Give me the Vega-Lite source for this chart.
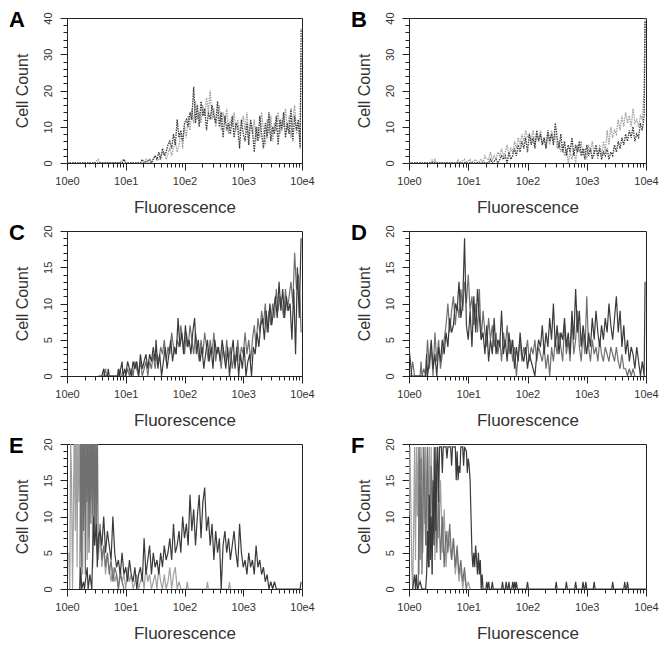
{
"$schema":"https://vega.github.io/schema/vega-lite/v6.json",
"padding":{"left":8,"top":8,"right":0,"bottom":0},
"spacing":5,
"datasets":{
"pA":[
{"s":1,"c":0,"n":0},{"s":1,"c":30,"n":0},{"s":1,"c":34,"n":1},{"s":1,"c":36,"n":0},{"s":1,"c":56,"n":0},{"s":1,"c":62,"n":1},{"s":1,"c":64,"n":0},{"s":1,"c":84,"n":0},{"s":1,"c":86,"n":1},{"s":1,"c":88,"n":0},{"s":1,"c":94,"n":1},{"s":1,"c":96,"n":2},{"s":1,"c":100,"n":1},{"s":1,"c":102,"n":2},{"s":1,"c":106,"n":3},{"s":1,"c":108,"n":1},{"s":1,"c":112,"n":4},{"s":1,"c":114,"n":2},{"s":1,"c":118,"n":6},{"s":1,"c":120,"n":3},{"s":1,"c":122,"n":5},{"s":1,"c":124,"n":8},{"s":1,"c":126,"n":4},{"s":1,"c":128,"n":10},{"s":1,"c":130,"n":7},{"s":1,"c":132,"n":13},{"s":1,"c":134,"n":9},{"s":1,"c":136,"n":15},{"s":1,"c":138,"n":11},{"s":1,"c":140,"n":17},{"s":1,"c":142,"n":12},{"s":1,"c":144,"n":14},{"s":1,"c":146,"n":11},{"s":1,"c":148,"n":16},{"s":1,"c":150,"n":13},{"s":1,"c":152,"n":18},{"s":1,"c":154,"n":14},{"s":1,"c":156,"n":20},{"s":1,"c":158,"n":12},{"s":1,"c":160,"n":15},{"s":1,"c":162,"n":10},{"s":1,"c":164,"n":13},{"s":1,"c":166,"n":16},{"s":1,"c":168,"n":9},{"s":1,"c":170,"n":14},{"s":1,"c":172,"n":11},{"s":1,"c":174,"n":15},{"s":1,"c":176,"n":8},{"s":1,"c":178,"n":12},{"s":1,"c":180,"n":10},{"s":1,"c":182,"n":14},{"s":1,"c":184,"n":9},{"s":1,"c":186,"n":12},{"s":1,"c":188,"n":8},{"s":1,"c":190,"n":11},{"s":1,"c":192,"n":13},{"s":1,"c":194,"n":9},{"s":1,"c":196,"n":14},{"s":1,"c":198,"n":7},{"s":1,"c":200,"n":11},{"s":1,"c":202,"n":8},{"s":1,"c":204,"n":12},{"s":1,"c":206,"n":6},{"s":1,"c":208,"n":10},{"s":1,"c":210,"n":7},{"s":1,"c":212,"n":14},{"s":1,"c":214,"n":9},{"s":1,"c":216,"n":5},{"s":1,"c":218,"n":12},{"s":1,"c":220,"n":8},{"s":1,"c":222,"n":13},{"s":1,"c":224,"n":6},{"s":1,"c":226,"n":11},{"s":1,"c":228,"n":9},{"s":1,"c":230,"n":14},{"s":1,"c":232,"n":8},{"s":1,"c":234,"n":12},{"s":1,"c":236,"n":10},{"s":1,"c":238,"n":15},{"s":1,"c":240,"n":9},{"s":1,"c":242,"n":13},{"s":1,"c":244,"n":7},{"s":1,"c":246,"n":12},{"s":1,"c":248,"n":16},{"s":1,"c":250,"n":8},{"s":1,"c":252,"n":11},{"s":1,"c":254,"n":6},{"s":1,"c":255,"n":30},
{"s":3,"c":0,"n":0},{"s":3,"c":60,"n":0},{"s":3,"c":62,"n":1},{"s":3,"c":64,"n":0},{"s":3,"c":80,"n":0},{"s":3,"c":82,"n":1},{"s":3,"c":84,"n":0},{"s":3,"c":90,"n":1},{"s":3,"c":92,"n":0},{"s":3,"c":96,"n":2},{"s":3,"c":98,"n":1},{"s":3,"c":100,"n":3},{"s":3,"c":102,"n":1},{"s":3,"c":104,"n":4},{"s":3,"c":106,"n":2},{"s":3,"c":108,"n":3},{"s":3,"c":110,"n":5},{"s":3,"c":112,"n":6},{"s":3,"c":114,"n":4},{"s":3,"c":116,"n":8},{"s":3,"c":118,"n":5},{"s":3,"c":120,"n":12},{"s":3,"c":122,"n":7},{"s":3,"c":124,"n":9},{"s":3,"c":126,"n":6},{"s":3,"c":128,"n":11},{"s":3,"c":130,"n":12},{"s":3,"c":132,"n":10},{"s":3,"c":134,"n":14},{"s":3,"c":136,"n":12},{"s":3,"c":138,"n":21},{"s":3,"c":140,"n":11},{"s":3,"c":142,"n":16},{"s":3,"c":144,"n":10},{"s":3,"c":146,"n":17},{"s":3,"c":148,"n":13},{"s":3,"c":150,"n":15},{"s":3,"c":152,"n":9},{"s":3,"c":154,"n":14},{"s":3,"c":156,"n":12},{"s":3,"c":158,"n":16},{"s":3,"c":160,"n":13},{"s":3,"c":162,"n":11},{"s":3,"c":164,"n":17},{"s":3,"c":166,"n":10},{"s":3,"c":168,"n":14},{"s":3,"c":170,"n":7},{"s":3,"c":172,"n":13},{"s":3,"c":174,"n":9},{"s":3,"c":176,"n":11},{"s":3,"c":178,"n":8},{"s":3,"c":180,"n":13},{"s":3,"c":182,"n":7},{"s":3,"c":184,"n":11},{"s":3,"c":186,"n":10},{"s":3,"c":188,"n":4},{"s":3,"c":190,"n":12},{"s":3,"c":192,"n":8},{"s":3,"c":194,"n":6},{"s":3,"c":196,"n":11},{"s":3,"c":198,"n":5},{"s":3,"c":200,"n":12},{"s":3,"c":202,"n":9},{"s":3,"c":204,"n":3},{"s":3,"c":206,"n":10},{"s":3,"c":208,"n":6},{"s":3,"c":210,"n":13},{"s":3,"c":212,"n":8},{"s":3,"c":214,"n":4},{"s":3,"c":216,"n":11},{"s":3,"c":218,"n":7},{"s":3,"c":220,"n":14},{"s":3,"c":222,"n":6},{"s":3,"c":224,"n":10},{"s":3,"c":226,"n":8},{"s":3,"c":228,"n":13},{"s":3,"c":230,"n":5},{"s":3,"c":232,"n":12},{"s":3,"c":234,"n":9},{"s":3,"c":236,"n":14},{"s":3,"c":238,"n":7},{"s":3,"c":240,"n":11},{"s":3,"c":242,"n":8},{"s":3,"c":244,"n":15},{"s":3,"c":246,"n":6},{"s":3,"c":248,"n":13},{"s":3,"c":250,"n":9},{"s":3,"c":252,"n":12},{"s":3,"c":254,"n":4},{"s":3,"c":255,"n":37}
],
"pB":[
{"s":1,"c":0,"n":0},{"s":1,"c":24,"n":0},{"s":1,"c":25,"n":1},{"s":1,"c":26,"n":0},{"s":1,"c":28,"n":1},{"s":1,"c":29,"n":0},{"s":1,"c":52,"n":0},{"s":1,"c":53,"n":1},{"s":1,"c":54,"n":0},{"s":1,"c":60,"n":1},{"s":1,"c":61,"n":0},{"s":1,"c":66,"n":1},{"s":1,"c":67,"n":0},{"s":1,"c":72,"n":1},{"s":1,"c":74,"n":0},{"s":1,"c":78,"n":1},{"s":1,"c":80,"n":0},{"s":1,"c":82,"n":2},{"s":1,"c":84,"n":1},{"s":1,"c":86,"n":1},{"s":1,"c":88,"n":3},{"s":1,"c":90,"n":1},{"s":1,"c":92,"n":2},{"s":1,"c":94,"n":1},{"s":1,"c":96,"n":3},{"s":1,"c":98,"n":2},{"s":1,"c":100,"n":4},{"s":1,"c":102,"n":2},{"s":1,"c":104,"n":3},{"s":1,"c":106,"n":5},{"s":1,"c":108,"n":2},{"s":1,"c":110,"n":4},{"s":1,"c":112,"n":3},{"s":1,"c":114,"n":6},{"s":1,"c":116,"n":4},{"s":1,"c":118,"n":7},{"s":1,"c":120,"n":5},{"s":1,"c":122,"n":8},{"s":1,"c":124,"n":6},{"s":1,"c":126,"n":9},{"s":1,"c":128,"n":7},{"s":1,"c":130,"n":8},{"s":1,"c":132,"n":6},{"s":1,"c":134,"n":9},{"s":1,"c":136,"n":5},{"s":1,"c":138,"n":8},{"s":1,"c":140,"n":6},{"s":1,"c":142,"n":9},{"s":1,"c":144,"n":5},{"s":1,"c":146,"n":7},{"s":1,"c":148,"n":4},{"s":1,"c":150,"n":8},{"s":1,"c":152,"n":5},{"s":1,"c":154,"n":9},{"s":1,"c":156,"n":6},{"s":1,"c":158,"n":8},{"s":1,"c":160,"n":4},{"s":1,"c":162,"n":6},{"s":1,"c":164,"n":3},{"s":1,"c":166,"n":5},{"s":1,"c":168,"n":2},{"s":1,"c":170,"n":4},{"s":1,"c":172,"n":0},{"s":1,"c":174,"n":3},{"s":1,"c":176,"n":1},{"s":1,"c":178,"n":4},{"s":1,"c":180,"n":0},{"s":1,"c":182,"n":5},{"s":1,"c":184,"n":3},{"s":1,"c":186,"n":6},{"s":1,"c":188,"n":2},{"s":1,"c":190,"n":4},{"s":1,"c":192,"n":1},{"s":1,"c":194,"n":5},{"s":1,"c":196,"n":3},{"s":1,"c":198,"n":6},{"s":1,"c":200,"n":2},{"s":1,"c":202,"n":4},{"s":1,"c":204,"n":1},{"s":1,"c":206,"n":5},{"s":1,"c":208,"n":2},{"s":1,"c":210,"n":6},{"s":1,"c":212,"n":3},{"s":1,"c":214,"n":9},{"s":1,"c":216,"n":5},{"s":1,"c":218,"n":10},{"s":1,"c":220,"n":7},{"s":1,"c":222,"n":9},{"s":1,"c":224,"n":8},{"s":1,"c":226,"n":12},{"s":1,"c":228,"n":9},{"s":1,"c":230,"n":13},{"s":1,"c":232,"n":10},{"s":1,"c":234,"n":14},{"s":1,"c":236,"n":11},{"s":1,"c":238,"n":13},{"s":1,"c":240,"n":10},{"s":1,"c":242,"n":15},{"s":1,"c":244,"n":11},{"s":1,"c":246,"n":12},{"s":1,"c":248,"n":10},{"s":1,"c":250,"n":13},{"s":1,"c":252,"n":12},{"s":1,"c":254,"n":20},{"s":1,"c":255,"n":40},
{"s":3,"c":0,"n":0},{"s":3,"c":86,"n":0},{"s":3,"c":88,"n":1},{"s":3,"c":90,"n":0},{"s":3,"c":94,"n":1},{"s":3,"c":96,"n":0},{"s":3,"c":100,"n":2},{"s":3,"c":102,"n":1},{"s":3,"c":104,"n":2},{"s":3,"c":106,"n":0},{"s":3,"c":108,"n":3},{"s":3,"c":110,"n":1},{"s":3,"c":112,"n":2},{"s":3,"c":114,"n":4},{"s":3,"c":116,"n":2},{"s":3,"c":118,"n":5},{"s":3,"c":120,"n":3},{"s":3,"c":122,"n":6},{"s":3,"c":124,"n":4},{"s":3,"c":126,"n":7},{"s":3,"c":128,"n":3},{"s":3,"c":130,"n":8},{"s":3,"c":132,"n":5},{"s":3,"c":134,"n":7},{"s":3,"c":136,"n":4},{"s":3,"c":138,"n":9},{"s":3,"c":140,"n":6},{"s":3,"c":142,"n":8},{"s":3,"c":144,"n":5},{"s":3,"c":146,"n":7},{"s":3,"c":148,"n":4},{"s":3,"c":150,"n":9},{"s":3,"c":152,"n":6},{"s":3,"c":154,"n":8},{"s":3,"c":156,"n":5},{"s":3,"c":158,"n":11},{"s":3,"c":160,"n":7},{"s":3,"c":162,"n":4},{"s":3,"c":164,"n":8},{"s":3,"c":166,"n":3},{"s":3,"c":168,"n":6},{"s":3,"c":170,"n":2},{"s":3,"c":172,"n":5},{"s":3,"c":174,"n":3},{"s":3,"c":176,"n":7},{"s":3,"c":178,"n":2},{"s":3,"c":180,"n":5},{"s":3,"c":182,"n":3},{"s":3,"c":184,"n":6},{"s":3,"c":186,"n":2},{"s":3,"c":188,"n":4},{"s":3,"c":190,"n":1},{"s":3,"c":192,"n":5},{"s":3,"c":194,"n":2},{"s":3,"c":196,"n":4},{"s":3,"c":198,"n":1},{"s":3,"c":200,"n":3},{"s":3,"c":202,"n":5},{"s":3,"c":204,"n":2},{"s":3,"c":206,"n":4},{"s":3,"c":208,"n":1},{"s":3,"c":210,"n":3},{"s":3,"c":212,"n":2},{"s":3,"c":214,"n":4},{"s":3,"c":216,"n":1},{"s":3,"c":218,"n":3},{"s":3,"c":220,"n":2},{"s":3,"c":222,"n":5},{"s":3,"c":224,"n":3},{"s":3,"c":226,"n":6},{"s":3,"c":228,"n":4},{"s":3,"c":230,"n":7},{"s":3,"c":232,"n":5},{"s":3,"c":234,"n":8},{"s":3,"c":236,"n":6},{"s":3,"c":238,"n":9},{"s":3,"c":240,"n":7},{"s":3,"c":242,"n":10},{"s":3,"c":244,"n":6},{"s":3,"c":246,"n":8},{"s":3,"c":248,"n":7},{"s":3,"c":250,"n":11},{"s":3,"c":252,"n":9},{"s":3,"c":254,"n":13},{"s":3,"c":255,"n":39}
],
"pC":[
{"s":2,"c":40,"n":0},{"s":2,"c":42,"n":1},{"s":2,"c":43,"n":0},{"s":2,"c":56,"n":0},{"s":2,"c":58,"n":1},{"s":2,"c":59,"n":0},{"s":2,"c":64,"n":0},{"s":2,"c":66,"n":1},{"s":2,"c":68,"n":0},{"s":2,"c":70,"n":1},{"s":2,"c":72,"n":0},{"s":2,"c":74,"n":2},{"s":2,"c":76,"n":1},{"s":2,"c":78,"n":0},{"s":2,"c":80,"n":2},{"s":2,"c":82,"n":0},{"s":2,"c":84,"n":1},{"s":2,"c":86,"n":2},{"s":2,"c":88,"n":0},{"s":2,"c":90,"n":2},{"s":2,"c":92,"n":1},{"s":2,"c":94,"n":3},{"s":2,"c":96,"n":1},{"s":2,"c":98,"n":3},{"s":2,"c":100,"n":2},{"s":2,"c":102,"n":4},{"s":2,"c":104,"n":3},{"s":2,"c":106,"n":5},{"s":2,"c":108,"n":2},{"s":2,"c":110,"n":4},{"s":2,"c":112,"n":3},{"s":2,"c":114,"n":6},{"s":2,"c":116,"n":4},{"s":2,"c":118,"n":3},{"s":2,"c":120,"n":5},{"s":2,"c":122,"n":4},{"s":2,"c":124,"n":7},{"s":2,"c":126,"n":5},{"s":2,"c":128,"n":3},{"s":2,"c":130,"n":6},{"s":2,"c":132,"n":4},{"s":2,"c":134,"n":7},{"s":2,"c":136,"n":5},{"s":2,"c":138,"n":3},{"s":2,"c":140,"n":6},{"s":2,"c":142,"n":4},{"s":2,"c":144,"n":2},{"s":2,"c":146,"n":5},{"s":2,"c":148,"n":3},{"s":2,"c":150,"n":6},{"s":2,"c":152,"n":4},{"s":2,"c":154,"n":2},{"s":2,"c":156,"n":5},{"s":2,"c":158,"n":3},{"s":2,"c":160,"n":6},{"s":2,"c":162,"n":2},{"s":2,"c":164,"n":4},{"s":2,"c":166,"n":3},{"s":2,"c":168,"n":1},{"s":2,"c":170,"n":4},{"s":2,"c":172,"n":2},{"s":2,"c":174,"n":5},{"s":2,"c":176,"n":2},{"s":2,"c":178,"n":4},{"s":2,"c":180,"n":1},{"s":2,"c":182,"n":3},{"s":2,"c":184,"n":2},{"s":2,"c":186,"n":5},{"s":2,"c":188,"n":2},{"s":2,"c":190,"n":4},{"s":2,"c":192,"n":3},{"s":2,"c":194,"n":6},{"s":2,"c":196,"n":3},{"s":2,"c":198,"n":5},{"s":2,"c":200,"n":2},{"s":2,"c":202,"n":5},{"s":2,"c":204,"n":7},{"s":2,"c":206,"n":4},{"s":2,"c":208,"n":8},{"s":2,"c":210,"n":6},{"s":2,"c":212,"n":9},{"s":2,"c":214,"n":7},{"s":2,"c":216,"n":10},{"s":2,"c":218,"n":6},{"s":2,"c":220,"n":9},{"s":2,"c":222,"n":7},{"s":2,"c":224,"n":10},{"s":2,"c":226,"n":8},{"s":2,"c":228,"n":12},{"s":2,"c":230,"n":9},{"s":2,"c":232,"n":11},{"s":2,"c":234,"n":10},{"s":2,"c":236,"n":8},{"s":2,"c":238,"n":12},{"s":2,"c":240,"n":9},{"s":2,"c":242,"n":11},{"s":2,"c":244,"n":13},{"s":2,"c":246,"n":10},{"s":2,"c":248,"n":17},{"s":2,"c":250,"n":12},{"s":2,"c":252,"n":14},{"s":2,"c":254,"n":10},{"s":2,"c":255,"n":6},
{"s":3,"c":34,"n":0},{"s":3,"c":38,"n":0},{"s":3,"c":40,"n":1},{"s":3,"c":41,"n":0},{"s":3,"c":44,"n":0},{"s":3,"c":45,"n":1},{"s":3,"c":46,"n":0},{"s":3,"c":55,"n":0},{"s":3,"c":56,"n":1},{"s":3,"c":57,"n":0},{"s":3,"c":60,"n":2},{"s":3,"c":61,"n":0},{"s":3,"c":63,"n":1},{"s":3,"c":64,"n":0},{"s":3,"c":66,"n":2},{"s":3,"c":68,"n":1},{"s":3,"c":70,"n":0},{"s":3,"c":72,"n":2},{"s":3,"c":74,"n":1},{"s":3,"c":76,"n":2},{"s":3,"c":78,"n":0},{"s":3,"c":80,"n":3},{"s":3,"c":82,"n":1},{"s":3,"c":84,"n":2},{"s":3,"c":86,"n":3},{"s":3,"c":88,"n":1},{"s":3,"c":90,"n":3},{"s":3,"c":92,"n":2},{"s":3,"c":94,"n":4},{"s":3,"c":96,"n":2},{"s":3,"c":97,"n":5},{"s":3,"c":99,"n":1},{"s":3,"c":101,"n":3},{"s":3,"c":103,"n":0},{"s":3,"c":105,"n":2},{"s":3,"c":107,"n":4},{"s":3,"c":109,"n":1},{"s":3,"c":111,"n":3},{"s":3,"c":113,"n":5},{"s":3,"c":115,"n":2},{"s":3,"c":117,"n":4},{"s":3,"c":119,"n":3},{"s":3,"c":121,"n":8},{"s":3,"c":123,"n":4},{"s":3,"c":125,"n":6},{"s":3,"c":127,"n":3},{"s":3,"c":129,"n":7},{"s":3,"c":131,"n":4},{"s":3,"c":133,"n":5},{"s":3,"c":135,"n":3},{"s":3,"c":137,"n":6},{"s":3,"c":139,"n":8},{"s":3,"c":141,"n":3},{"s":3,"c":143,"n":5},{"s":3,"c":145,"n":2},{"s":3,"c":147,"n":4},{"s":3,"c":149,"n":1},{"s":3,"c":151,"n":3},{"s":3,"c":153,"n":5},{"s":3,"c":155,"n":2},{"s":3,"c":157,"n":4},{"s":3,"c":159,"n":1},{"s":3,"c":161,"n":5},{"s":3,"c":163,"n":3},{"s":3,"c":165,"n":4},{"s":3,"c":167,"n":2},{"s":3,"c":169,"n":5},{"s":3,"c":171,"n":3},{"s":3,"c":173,"n":1},{"s":3,"c":175,"n":4},{"s":3,"c":177,"n":0},{"s":3,"c":179,"n":3},{"s":3,"c":181,"n":5},{"s":3,"c":183,"n":1},{"s":3,"c":185,"n":4},{"s":3,"c":187,"n":0},{"s":3,"c":189,"n":3},{"s":3,"c":191,"n":1},{"s":3,"c":193,"n":4},{"s":3,"c":195,"n":0},{"s":3,"c":197,"n":2},{"s":3,"c":199,"n":3},{"s":3,"c":201,"n":0},{"s":3,"c":203,"n":4},{"s":3,"c":205,"n":3},{"s":3,"c":207,"n":6},{"s":3,"c":209,"n":4},{"s":3,"c":211,"n":7},{"s":3,"c":213,"n":8},{"s":3,"c":215,"n":5},{"s":3,"c":217,"n":9},{"s":3,"c":219,"n":6},{"s":3,"c":221,"n":10},{"s":3,"c":223,"n":7},{"s":3,"c":225,"n":9},{"s":3,"c":227,"n":11},{"s":3,"c":229,"n":8},{"s":3,"c":231,"n":13},{"s":3,"c":233,"n":9},{"s":3,"c":235,"n":12},{"s":3,"c":237,"n":8},{"s":3,"c":239,"n":11},{"s":3,"c":241,"n":9},{"s":3,"c":243,"n":10},{"s":3,"c":245,"n":5},{"s":3,"c":247,"n":12},{"s":3,"c":249,"n":3},{"s":3,"c":251,"n":15},{"s":3,"c":253,"n":8},{"s":3,"c":255,"n":19}
],
"pD":[
{"s":2,"c":2,"n":0},{"s":2,"c":4,"n":2},{"s":2,"c":6,"n":0},{"s":2,"c":12,"n":0},{"s":2,"c":13,"n":2},{"s":2,"c":14,"n":0},{"s":2,"c":16,"n":1},{"s":2,"c":18,"n":0},{"s":2,"c":20,"n":5},{"s":2,"c":22,"n":1},{"s":2,"c":24,"n":4},{"s":2,"c":26,"n":0},{"s":2,"c":28,"n":6},{"s":2,"c":30,"n":2},{"s":2,"c":32,"n":5},{"s":2,"c":34,"n":1},{"s":2,"c":36,"n":3},{"s":2,"c":38,"n":5},{"s":2,"c":40,"n":7},{"s":2,"c":42,"n":10},{"s":2,"c":44,"n":6},{"s":2,"c":46,"n":9},{"s":2,"c":48,"n":11},{"s":2,"c":50,"n":7},{"s":2,"c":52,"n":10},{"s":2,"c":54,"n":8},{"s":2,"c":56,"n":12},{"s":2,"c":58,"n":9},{"s":2,"c":60,"n":13},{"s":2,"c":62,"n":10},{"s":2,"c":64,"n":14},{"s":2,"c":66,"n":9},{"s":2,"c":68,"n":11},{"s":2,"c":70,"n":7},{"s":2,"c":72,"n":10},{"s":2,"c":74,"n":6},{"s":2,"c":76,"n":12},{"s":2,"c":78,"n":5},{"s":2,"c":80,"n":9},{"s":2,"c":82,"n":6},{"s":2,"c":84,"n":4},{"s":2,"c":86,"n":8},{"s":2,"c":88,"n":5},{"s":2,"c":90,"n":7},{"s":2,"c":92,"n":4},{"s":2,"c":94,"n":6},{"s":2,"c":96,"n":3},{"s":2,"c":98,"n":5},{"s":2,"c":100,"n":2},{"s":2,"c":102,"n":6},{"s":2,"c":104,"n":4},{"s":2,"c":106,"n":7},{"s":2,"c":108,"n":3},{"s":2,"c":110,"n":5},{"s":2,"c":112,"n":2},{"s":2,"c":114,"n":4},{"s":2,"c":116,"n":0},{"s":2,"c":118,"n":3},{"s":2,"c":120,"n":5},{"s":2,"c":122,"n":2},{"s":2,"c":124,"n":4},{"s":2,"c":126,"n":3},{"s":2,"c":128,"n":5},{"s":2,"c":130,"n":2},{"s":2,"c":132,"n":4},{"s":2,"c":134,"n":3},{"s":2,"c":136,"n":5},{"s":2,"c":138,"n":2},{"s":2,"c":140,"n":4},{"s":2,"c":142,"n":3},{"s":2,"c":144,"n":2},{"s":2,"c":146,"n":4},{"s":2,"c":148,"n":1},{"s":2,"c":150,"n":3},{"s":2,"c":152,"n":0},{"s":2,"c":154,"n":4},{"s":2,"c":156,"n":2},{"s":2,"c":158,"n":5},{"s":2,"c":160,"n":3},{"s":2,"c":162,"n":6},{"s":2,"c":164,"n":4},{"s":2,"c":166,"n":2},{"s":2,"c":168,"n":7},{"s":2,"c":170,"n":3},{"s":2,"c":172,"n":5},{"s":2,"c":174,"n":2},{"s":2,"c":176,"n":8},{"s":2,"c":178,"n":3},{"s":2,"c":180,"n":5},{"s":2,"c":182,"n":9},{"s":2,"c":184,"n":4},{"s":2,"c":186,"n":2},{"s":2,"c":188,"n":6},{"s":2,"c":190,"n":3},{"s":2,"c":192,"n":11},{"s":2,"c":194,"n":4},{"s":2,"c":196,"n":2},{"s":2,"c":198,"n":5},{"s":2,"c":200,"n":3},{"s":2,"c":202,"n":4},{"s":2,"c":204,"n":2},{"s":2,"c":206,"n":5},{"s":2,"c":208,"n":3},{"s":2,"c":210,"n":2},{"s":2,"c":212,"n":4},{"s":2,"c":214,"n":3},{"s":2,"c":216,"n":2},{"s":2,"c":218,"n":4},{"s":2,"c":220,"n":3},{"s":2,"c":222,"n":2},{"s":2,"c":224,"n":4},{"s":2,"c":226,"n":2},{"s":2,"c":228,"n":1},{"s":2,"c":230,"n":3},{"s":2,"c":232,"n":1},{"s":2,"c":234,"n":1},{"s":2,"c":236,"n":0},{"s":2,"c":238,"n":1},{"s":2,"c":240,"n":0},{"s":2,"c":242,"n":1},{"s":2,"c":244,"n":0},
{"s":3,"c":0,"n":4},{"s":3,"c":3,"n":0},{"s":3,"c":18,"n":0},{"s":3,"c":19,"n":3},{"s":3,"c":20,"n":0},{"s":3,"c":22,"n":2},{"s":3,"c":24,"n":5},{"s":3,"c":26,"n":1},{"s":3,"c":28,"n":3},{"s":3,"c":30,"n":0},{"s":3,"c":32,"n":4},{"s":3,"c":34,"n":2},{"s":3,"c":36,"n":5},{"s":3,"c":38,"n":3},{"s":3,"c":40,"n":6},{"s":3,"c":42,"n":4},{"s":3,"c":44,"n":8},{"s":3,"c":46,"n":6},{"s":3,"c":48,"n":7},{"s":3,"c":50,"n":10},{"s":3,"c":52,"n":9},{"s":3,"c":54,"n":13},{"s":3,"c":56,"n":8},{"s":3,"c":58,"n":10},{"s":3,"c":60,"n":19},{"s":3,"c":62,"n":7},{"s":3,"c":64,"n":5},{"s":3,"c":66,"n":9},{"s":3,"c":68,"n":4},{"s":3,"c":70,"n":11},{"s":3,"c":72,"n":6},{"s":3,"c":74,"n":12},{"s":3,"c":76,"n":8},{"s":3,"c":78,"n":5},{"s":3,"c":80,"n":6},{"s":3,"c":82,"n":3},{"s":3,"c":84,"n":7},{"s":3,"c":86,"n":2},{"s":3,"c":88,"n":5},{"s":3,"c":90,"n":3},{"s":3,"c":92,"n":8},{"s":3,"c":94,"n":3},{"s":3,"c":96,"n":5},{"s":3,"c":98,"n":4},{"s":3,"c":100,"n":9},{"s":3,"c":102,"n":3},{"s":3,"c":104,"n":5},{"s":3,"c":106,"n":2},{"s":3,"c":108,"n":6},{"s":3,"c":110,"n":3},{"s":3,"c":112,"n":5},{"s":3,"c":114,"n":1},{"s":3,"c":116,"n":4},{"s":3,"c":118,"n":2},{"s":3,"c":120,"n":6},{"s":3,"c":122,"n":3},{"s":3,"c":124,"n":2},{"s":3,"c":126,"n":4},{"s":3,"c":128,"n":1},{"s":3,"c":130,"n":3},{"s":3,"c":132,"n":2},{"s":3,"c":134,"n":1},{"s":3,"c":136,"n":0},{"s":3,"c":138,"n":3},{"s":3,"c":140,"n":5},{"s":3,"c":142,"n":4},{"s":3,"c":144,"n":7},{"s":3,"c":146,"n":3},{"s":3,"c":148,"n":6},{"s":3,"c":150,"n":4},{"s":3,"c":152,"n":8},{"s":3,"c":154,"n":5},{"s":3,"c":156,"n":10},{"s":3,"c":158,"n":4},{"s":3,"c":160,"n":7},{"s":3,"c":162,"n":3},{"s":3,"c":164,"n":6},{"s":3,"c":166,"n":5},{"s":3,"c":168,"n":8},{"s":3,"c":170,"n":4},{"s":3,"c":172,"n":6},{"s":3,"c":174,"n":3},{"s":3,"c":176,"n":9},{"s":3,"c":178,"n":5},{"s":3,"c":180,"n":12},{"s":3,"c":182,"n":6},{"s":3,"c":184,"n":9},{"s":3,"c":186,"n":4},{"s":3,"c":188,"n":7},{"s":3,"c":190,"n":5},{"s":3,"c":192,"n":3},{"s":3,"c":194,"n":6},{"s":3,"c":196,"n":4},{"s":3,"c":198,"n":8},{"s":3,"c":200,"n":5},{"s":3,"c":202,"n":9},{"s":3,"c":204,"n":6},{"s":3,"c":206,"n":4},{"s":3,"c":208,"n":7},{"s":3,"c":210,"n":5},{"s":3,"c":212,"n":8},{"s":3,"c":214,"n":6},{"s":3,"c":216,"n":10},{"s":3,"c":218,"n":7},{"s":3,"c":220,"n":5},{"s":3,"c":222,"n":8},{"s":3,"c":224,"n":11},{"s":3,"c":226,"n":6},{"s":3,"c":228,"n":9},{"s":3,"c":230,"n":4},{"s":3,"c":232,"n":7},{"s":3,"c":234,"n":3},{"s":3,"c":236,"n":5},{"s":3,"c":238,"n":2},{"s":3,"c":240,"n":4},{"s":3,"c":242,"n":3},{"s":3,"c":244,"n":1},{"s":3,"c":246,"n":4},{"s":3,"c":248,"n":2},{"s":3,"c":250,"n":0},{"s":3,"c":252,"n":2},{"s":3,"c":254,"n":0},{"s":3,"c":255,"n":13}
],
"pE":[
{"s":1,"c":2,"n":5},{"s":1,"c":3,"n":0},{"s":1,"c":4,"n":20},{"s":1,"c":5,"n":15},{"s":1,"c":6,"n":0},{"s":1,"c":7,"n":10},{"s":1,"c":8,"n":25},{"s":1,"c":9,"n":8},{"s":1,"c":10,"n":25},{"s":1,"c":11,"n":3},{"s":1,"c":12,"n":25},{"s":1,"c":13,"n":12},{"s":1,"c":14,"n":25},{"s":1,"c":15,"n":5},{"s":1,"c":16,"n":25},{"s":1,"c":17,"n":2},{"s":1,"c":18,"n":18},{"s":1,"c":19,"n":25},{"s":1,"c":20,"n":10},{"s":1,"c":21,"n":25},{"s":1,"c":22,"n":4},{"s":1,"c":23,"n":25},{"s":1,"c":24,"n":7},{"s":1,"c":25,"n":25},{"s":1,"c":26,"n":12},{"s":1,"c":27,"n":25},{"s":1,"c":28,"n":3},{"s":1,"c":30,"n":15},{"s":1,"c":32,"n":6},{"s":1,"c":34,"n":4},{"s":1,"c":36,"n":8},{"s":1,"c":38,"n":3},{"s":1,"c":40,"n":6},{"s":1,"c":42,"n":2},{"s":1,"c":44,"n":5},{"s":1,"c":46,"n":3},{"s":1,"c":48,"n":1},{"s":1,"c":50,"n":3},{"s":1,"c":52,"n":1},{"s":1,"c":54,"n":2},{"s":1,"c":56,"n":0},{"s":1,"c":58,"n":3},{"s":1,"c":60,"n":1},{"s":1,"c":62,"n":2},{"s":1,"c":64,"n":0},{"s":1,"c":66,"n":3},{"s":1,"c":68,"n":1},{"s":1,"c":70,"n":2},{"s":1,"c":72,"n":0},{"s":1,"c":74,"n":1},{"s":1,"c":76,"n":2},{"s":1,"c":78,"n":0},{"s":1,"c":80,"n":1},{"s":1,"c":82,"n":2},{"s":1,"c":84,"n":0},{"s":1,"c":86,"n":3},{"s":1,"c":88,"n":1},{"s":1,"c":90,"n":2},{"s":1,"c":92,"n":0},{"s":1,"c":94,"n":1},{"s":1,"c":96,"n":2},{"s":1,"c":98,"n":0},{"s":1,"c":100,"n":3},{"s":1,"c":102,"n":1},{"s":1,"c":104,"n":0},{"s":1,"c":106,"n":2},{"s":1,"c":108,"n":0},{"s":1,"c":110,"n":1},{"s":1,"c":112,"n":3},{"s":1,"c":114,"n":0},{"s":1,"c":116,"n":2},{"s":1,"c":118,"n":3},{"s":1,"c":120,"n":0},{"s":1,"c":122,"n":1},{"s":1,"c":124,"n":0},{"s":1,"c":130,"n":0},{"s":1,"c":131,"n":1},{"s":1,"c":132,"n":0},{"s":1,"c":152,"n":0},{"s":1,"c":153,"n":1},{"s":1,"c":154,"n":0},{"s":1,"c":176,"n":0},{"s":1,"c":177,"n":1},{"s":1,"c":178,"n":0},
{"s":2,"c":14,"n":0},{"s":2,"c":15,"n":25},{"s":2,"c":16,"n":3},{"s":2,"c":17,"n":25},{"s":2,"c":18,"n":8},{"s":2,"c":19,"n":25},{"s":2,"c":20,"n":2},{"s":2,"c":21,"n":25},{"s":2,"c":22,"n":12},{"s":2,"c":23,"n":25},{"s":2,"c":24,"n":5},{"s":2,"c":25,"n":25},{"s":2,"c":26,"n":9},{"s":2,"c":27,"n":25},{"s":2,"c":28,"n":10},{"s":2,"c":29,"n":25},{"s":2,"c":30,"n":6},{"s":2,"c":31,"n":25},{"s":2,"c":32,"n":8},{"s":2,"c":33,"n":25},{"s":2,"c":34,"n":5},{"s":2,"c":36,"n":9},{"s":2,"c":38,"n":4},{"s":2,"c":40,"n":6},{"s":2,"c":42,"n":3},{"s":2,"c":44,"n":5},{"s":2,"c":46,"n":2},{"s":2,"c":48,"n":4},{"s":2,"c":50,"n":1},{"s":2,"c":52,"n":3},{"s":2,"c":54,"n":2},{"s":2,"c":56,"n":0},{"s":2,"c":58,"n":2},{"s":2,"c":60,"n":1},{"s":2,"c":62,"n":0},
{"s":3,"c":14,"n":0},{"s":3,"c":15,"n":3},{"s":3,"c":16,"n":0},{"s":3,"c":18,"n":1},{"s":3,"c":19,"n":0},{"s":3,"c":20,"n":1},{"s":3,"c":22,"n":3},{"s":3,"c":23,"n":0},{"s":3,"c":25,"n":2},{"s":3,"c":27,"n":0},{"s":3,"c":28,"n":5},{"s":3,"c":29,"n":10},{"s":3,"c":30,"n":6},{"s":3,"c":32,"n":9},{"s":3,"c":33,"n":3},{"s":3,"c":34,"n":7},{"s":3,"c":36,"n":8},{"s":3,"c":38,"n":6},{"s":3,"c":40,"n":10},{"s":3,"c":42,"n":5},{"s":3,"c":44,"n":8},{"s":3,"c":46,"n":6},{"s":3,"c":48,"n":4},{"s":3,"c":50,"n":10},{"s":3,"c":52,"n":5},{"s":3,"c":54,"n":3},{"s":3,"c":56,"n":4},{"s":3,"c":58,"n":2},{"s":3,"c":60,"n":5},{"s":3,"c":62,"n":2},{"s":3,"c":64,"n":3},{"s":3,"c":66,"n":1},{"s":3,"c":68,"n":4},{"s":3,"c":70,"n":2},{"s":3,"c":72,"n":1},{"s":3,"c":74,"n":3},{"s":3,"c":76,"n":0},{"s":3,"c":78,"n":2},{"s":3,"c":80,"n":3},{"s":3,"c":82,"n":1},{"s":3,"c":84,"n":7},{"s":3,"c":86,"n":2},{"s":3,"c":88,"n":4},{"s":3,"c":90,"n":6},{"s":3,"c":92,"n":2},{"s":3,"c":94,"n":5},{"s":3,"c":96,"n":3},{"s":3,"c":98,"n":4},{"s":3,"c":100,"n":2},{"s":3,"c":102,"n":5},{"s":3,"c":104,"n":3},{"s":3,"c":106,"n":6},{"s":3,"c":108,"n":4},{"s":3,"c":110,"n":5},{"s":3,"c":112,"n":7},{"s":3,"c":114,"n":4},{"s":3,"c":116,"n":9},{"s":3,"c":118,"n":5},{"s":3,"c":120,"n":6},{"s":3,"c":122,"n":8},{"s":3,"c":124,"n":5},{"s":3,"c":126,"n":10},{"s":3,"c":128,"n":7},{"s":3,"c":130,"n":9},{"s":3,"c":132,"n":6},{"s":3,"c":134,"n":13},{"s":3,"c":136,"n":8},{"s":3,"c":138,"n":11},{"s":3,"c":140,"n":6},{"s":3,"c":142,"n":10},{"s":3,"c":144,"n":13},{"s":3,"c":146,"n":7},{"s":3,"c":148,"n":12},{"s":3,"c":150,"n":14},{"s":3,"c":152,"n":8},{"s":3,"c":154,"n":10},{"s":3,"c":156,"n":6},{"s":3,"c":158,"n":9},{"s":3,"c":160,"n":4},{"s":3,"c":162,"n":8},{"s":3,"c":164,"n":5},{"s":3,"c":166,"n":7},{"s":3,"c":168,"n":0},{"s":3,"c":170,"n":6},{"s":3,"c":172,"n":8},{"s":3,"c":174,"n":5},{"s":3,"c":176,"n":7},{"s":3,"c":178,"n":4},{"s":3,"c":180,"n":6},{"s":3,"c":182,"n":8},{"s":3,"c":184,"n":5},{"s":3,"c":186,"n":3},{"s":3,"c":188,"n":9},{"s":3,"c":190,"n":5},{"s":3,"c":192,"n":3},{"s":3,"c":194,"n":4},{"s":3,"c":196,"n":2},{"s":3,"c":198,"n":5},{"s":3,"c":200,"n":3},{"s":3,"c":202,"n":4},{"s":3,"c":204,"n":2},{"s":3,"c":206,"n":6},{"s":3,"c":208,"n":3},{"s":3,"c":210,"n":4},{"s":3,"c":212,"n":2},{"s":3,"c":214,"n":3},{"s":3,"c":216,"n":1},{"s":3,"c":218,"n":2},{"s":3,"c":220,"n":0},{"s":3,"c":222,"n":1},{"s":3,"c":224,"n":0},{"s":3,"c":226,"n":1},{"s":3,"c":228,"n":0},{"s":3,"c":254,"n":0},{"s":3,"c":255,"n":1}
],
"pF":[
{"s":1,"c":0,"n":10},{"s":1,"c":1,"n":19.6},{"s":1,"c":2,"n":12},{"s":1,"c":3,"n":3},{"s":1,"c":4,"n":0},{"s":1,"c":5,"n":8},{"s":1,"c":6,"n":19.6},{"s":1,"c":7,"n":4},{"s":1,"c":8,"n":19.6},{"s":1,"c":9,"n":10},{"s":1,"c":10,"n":19.6},{"s":1,"c":11,"n":2},{"s":1,"c":12,"n":19.6},{"s":1,"c":13,"n":15},{"s":1,"c":14,"n":19.6},{"s":1,"c":15,"n":5},{"s":1,"c":16,"n":19.6},{"s":1,"c":17,"n":9},{"s":1,"c":18,"n":19.6},{"s":1,"c":19,"n":6},{"s":1,"c":20,"n":19.6},{"s":1,"c":21,"n":3},{"s":1,"c":22,"n":19.6},{"s":1,"c":23,"n":8},{"s":1,"c":24,"n":19.6},{"s":1,"c":25,"n":2},{"s":1,"c":26,"n":14},{"s":1,"c":27,"n":19.6},{"s":1,"c":28,"n":4},{"s":1,"c":30,"n":19.6},{"s":1,"c":32,"n":7},{"s":1,"c":34,"n":15},{"s":1,"c":36,"n":5},{"s":1,"c":38,"n":11},{"s":1,"c":40,"n":3},{"s":1,"c":42,"n":8},{"s":1,"c":44,"n":6},{"s":1,"c":46,"n":4},{"s":1,"c":48,"n":7},{"s":1,"c":50,"n":2},{"s":1,"c":52,"n":5},{"s":1,"c":54,"n":1},{"s":1,"c":56,"n":3},{"s":1,"c":58,"n":0},{"s":1,"c":60,"n":2},{"s":1,"c":62,"n":0},{"s":1,"c":64,"n":1},{"s":1,"c":66,"n":0},
{"s":2,"c":10,"n":0},{"s":2,"c":11,"n":19.6},{"s":2,"c":12,"n":4},{"s":2,"c":13,"n":18},{"s":2,"c":14,"n":2},{"s":2,"c":16,"n":19.6},{"s":2,"c":18,"n":6},{"s":2,"c":20,"n":19.6},{"s":2,"c":22,"n":3},{"s":2,"c":24,"n":17},{"s":2,"c":26,"n":8},{"s":2,"c":28,"n":19.6},{"s":2,"c":30,"n":5},{"s":2,"c":32,"n":13},{"s":2,"c":34,"n":4},{"s":2,"c":36,"n":10},{"s":2,"c":38,"n":3},{"s":2,"c":40,"n":8},{"s":2,"c":42,"n":5},{"s":2,"c":44,"n":9},{"s":2,"c":46,"n":4},{"s":2,"c":48,"n":7},{"s":2,"c":50,"n":3},{"s":2,"c":52,"n":6},{"s":2,"c":54,"n":2},{"s":2,"c":56,"n":4},{"s":2,"c":58,"n":1},{"s":2,"c":60,"n":3},{"s":2,"c":62,"n":0},
{"s":3,"c":4,"n":0},{"s":3,"c":6,"n":2},{"s":3,"c":7,"n":0},{"s":3,"c":8,"n":2},{"s":3,"c":9,"n":0},{"s":3,"c":12,"n":1},{"s":3,"c":14,"n":0},{"s":3,"c":18,"n":0},{"s":3,"c":19,"n":2},{"s":3,"c":20,"n":8},{"s":3,"c":21,"n":3},{"s":3,"c":22,"n":13},{"s":3,"c":23,"n":4},{"s":3,"c":24,"n":10},{"s":3,"c":25,"n":2},{"s":3,"c":26,"n":15},{"s":3,"c":27,"n":6},{"s":3,"c":28,"n":19.6},{"s":3,"c":29,"n":8},{"s":3,"c":30,"n":17},{"s":3,"c":31,"n":19.6},{"s":3,"c":32,"n":12},{"s":3,"c":33,"n":19.6},{"s":3,"c":35,"n":19.6},{"s":3,"c":36,"n":16},{"s":3,"c":37,"n":19.6},{"s":3,"c":40,"n":19.6},{"s":3,"c":41,"n":18},{"s":3,"c":42,"n":19.6},{"s":3,"c":45,"n":19.6},{"s":3,"c":46,"n":17},{"s":3,"c":47,"n":19.6},{"s":3,"c":50,"n":19.6},{"s":3,"c":51,"n":15},{"s":3,"c":52,"n":19},{"s":3,"c":53,"n":15},{"s":3,"c":54,"n":17},{"s":3,"c":55,"n":16},{"s":3,"c":56,"n":19.6},{"s":3,"c":58,"n":19.6},{"s":3,"c":59,"n":17},{"s":3,"c":60,"n":19.6},{"s":3,"c":62,"n":19},{"s":3,"c":63,"n":16},{"s":3,"c":64,"n":18},{"s":3,"c":65,"n":17},{"s":3,"c":66,"n":15},{"s":3,"c":67,"n":10},{"s":3,"c":68,"n":5},{"s":3,"c":69,"n":3},{"s":3,"c":70,"n":5},{"s":3,"c":71,"n":3},{"s":3,"c":72,"n":6},{"s":3,"c":73,"n":4},{"s":3,"c":74,"n":2},{"s":3,"c":75,"n":5},{"s":3,"c":76,"n":2},{"s":3,"c":77,"n":4},{"s":3,"c":78,"n":0},{"s":3,"c":79,"n":2},{"s":3,"c":80,"n":0},{"s":3,"c":83,"n":0},{"s":3,"c":84,"n":1},{"s":3,"c":85,"n":0},{"s":3,"c":86,"n":1},{"s":3,"c":87,"n":0},{"s":3,"c":89,"n":0},{"s":3,"c":90,"n":1},{"s":3,"c":91,"n":0},{"s":3,"c":100,"n":0},{"s":3,"c":101,"n":1},{"s":3,"c":102,"n":0},{"s":3,"c":104,"n":0},{"s":3,"c":105,"n":1},{"s":3,"c":106,"n":0},{"s":3,"c":107,"n":0},{"s":3,"c":108,"n":1},{"s":3,"c":109,"n":0},{"s":3,"c":111,"n":0},{"s":3,"c":112,"n":1},{"s":3,"c":113,"n":0},{"s":3,"c":114,"n":1},{"s":3,"c":115,"n":0},{"s":3,"c":116,"n":1},{"s":3,"c":117,"n":0},{"s":3,"c":127,"n":0},{"s":3,"c":128,"n":1},{"s":3,"c":129,"n":0},{"s":3,"c":158,"n":0},{"s":3,"c":159,"n":1},{"s":3,"c":160,"n":0},{"s":3,"c":169,"n":0},{"s":3,"c":170,"n":1},{"s":3,"c":171,"n":0},{"s":3,"c":179,"n":0},{"s":3,"c":180,"n":1},{"s":3,"c":181,"n":0},{"s":3,"c":187,"n":0},{"s":3,"c":188,"n":1},{"s":3,"c":189,"n":0},{"s":3,"c":190,"n":0},{"s":3,"c":191,"n":1},{"s":3,"c":192,"n":0},{"s":3,"c":199,"n":0},{"s":3,"c":200,"n":1},{"s":3,"c":201,"n":0},{"s":3,"c":219,"n":0},{"s":3,"c":220,"n":1},{"s":3,"c":221,"n":0},{"s":3,"c":232,"n":0},{"s":3,"c":233,"n":1},{"s":3,"c":234,"n":0},{"s":3,"c":235,"n":0},{"s":3,"c":236,"n":1},{"s":3,"c":237,"n":0},{"s":3,"c":256,"n":0}
]
},
"vconcat":[
{"hconcat":[
{"width":235,"height":145,"title":{"text":"A"},"data":{"name":"pA"},
 "mark":{"type":"line","clip":true,"strokeWidth":1.3,"strokeDash":[1.5,1]},
 "encoding":{
  "x":{"field":"c","type":"quantitative","title":"Fluorescence","scale":{"domain":[0,256],"nice":false,"zero":false},"axis":{"values":[0,19.27,30.54,38.53,44.74,49.8,54.09,57.8,61.07,64,83.27,94.54,102.53,108.74,113.8,118.09,121.8,125.07,128,147.27,158.54,166.53,172.74,177.8,182.09,185.8,189.07,192,211.27,222.54,230.53,236.74,241.8,246.09,249.8,253.07,256],"labelExpr":"datum.value % 64 == 0 ? '10e' + (datum.value / 64) : ''","tickSize":{"condition":{"test":"datum.value % 64 == 0","value":7},"value":4}}},
  "y":{"field":"n","type":"quantitative","title":"Cell Count","scale":{"domain":[0,40],"nice":false},"axis":{"values":[0,2,4,6,8,10,12,14,16,18,20,22,24,26,28,30,32,34,36,38,40],"labelExpr":"datum.value % 10 == 0 ? '' + datum.value : ''","tickSize":{"condition":{"test":"datum.value % 10 == 0","value":7},"value":4}}},
  "color":{"field":"s","type":"nominal","scale":{"domain":[1,2,3],"range":["#a0a0a0","#707070","#3a3a3a"]},"legend":null}}},
{"width":237,"height":145,"title":{"text":"B"},"data":{"name":"pB"},
 "mark":{"type":"line","clip":true,"strokeWidth":1.3,"strokeDash":[1.5,1]},
 "encoding":{
  "x":{"field":"c","type":"quantitative","title":"Fluorescence","scale":{"domain":[0,256],"nice":false,"zero":false},"axis":{"values":[0,19.27,30.54,38.53,44.74,49.8,54.09,57.8,61.07,64,83.27,94.54,102.53,108.74,113.8,118.09,121.8,125.07,128,147.27,158.54,166.53,172.74,177.8,182.09,185.8,189.07,192,211.27,222.54,230.53,236.74,241.8,246.09,249.8,253.07,256],"labelExpr":"datum.value % 64 == 0 ? '10e' + (datum.value / 64) : ''","tickSize":{"condition":{"test":"datum.value % 64 == 0","value":7},"value":4}}},
  "y":{"field":"n","type":"quantitative","title":"Cell Count","scale":{"domain":[0,40],"nice":false},"axis":{"values":[0,2,4,6,8,10,12,14,16,18,20,22,24,26,28,30,32,34,36,38,40],"labelExpr":"datum.value % 10 == 0 ? '' + datum.value : ''","tickSize":{"condition":{"test":"datum.value % 10 == 0","value":7},"value":4}}},
  "color":{"field":"s","type":"nominal","scale":{"domain":[1,2,3],"range":["#a0a0a0","#707070","#3a3a3a"]},"legend":null}}}
]},
{"hconcat":[
{"width":235,"height":145,"title":{"text":"C"},"data":{"name":"pC"},
 "mark":{"type":"line","clip":true,"strokeWidth":1.2},
 "encoding":{
  "x":{"field":"c","type":"quantitative","title":"Fluorescence","scale":{"domain":[0,256],"nice":false,"zero":false},"axis":{"values":[0,19.27,30.54,38.53,44.74,49.8,54.09,57.8,61.07,64,83.27,94.54,102.53,108.74,113.8,118.09,121.8,125.07,128,147.27,158.54,166.53,172.74,177.8,182.09,185.8,189.07,192,211.27,222.54,230.53,236.74,241.8,246.09,249.8,253.07,256],"labelExpr":"datum.value % 64 == 0 ? '10e' + (datum.value / 64) : ''","tickSize":{"condition":{"test":"datum.value % 64 == 0","value":7},"value":4}}},
  "y":{"field":"n","type":"quantitative","title":"Cell Count","scale":{"domain":[0,20],"nice":false},"axis":{"values":[0,1,2,3,4,5,6,7,8,9,10,11,12,13,14,15,16,17,18,19,20],"labelExpr":"datum.value % 5 == 0 ? '' + datum.value : ''","tickSize":{"condition":{"test":"datum.value % 5 == 0","value":7},"value":4}}},
  "color":{"field":"s","type":"nominal","scale":{"domain":[1,2,3],"range":["#a8a8a8","#7a7a7a","#1a1a1a"]},"legend":null}}},
{"width":237,"height":145,"title":{"text":"D"},"data":{"name":"pD"},
 "mark":{"type":"line","clip":true,"strokeWidth":1.2},
 "encoding":{
  "x":{"field":"c","type":"quantitative","title":"Fluorescence","scale":{"domain":[0,256],"nice":false,"zero":false},"axis":{"values":[0,19.27,30.54,38.53,44.74,49.8,54.09,57.8,61.07,64,83.27,94.54,102.53,108.74,113.8,118.09,121.8,125.07,128,147.27,158.54,166.53,172.74,177.8,182.09,185.8,189.07,192,211.27,222.54,230.53,236.74,241.8,246.09,249.8,253.07,256],"labelExpr":"datum.value % 64 == 0 ? '10e' + (datum.value / 64) : ''","tickSize":{"condition":{"test":"datum.value % 64 == 0","value":7},"value":4}}},
  "y":{"field":"n","type":"quantitative","title":"Cell Count","scale":{"domain":[0,20],"nice":false},"axis":{"values":[0,1,2,3,4,5,6,7,8,9,10,11,12,13,14,15,16,17,18,19,20],"labelExpr":"datum.value % 5 == 0 ? '' + datum.value : ''","tickSize":{"condition":{"test":"datum.value % 5 == 0","value":7},"value":4}}},
  "color":{"field":"s","type":"nominal","scale":{"domain":[1,2,3],"range":["#a8a8a8","#7a7a7a","#1a1a1a"]},"legend":null}}}
]},
{"hconcat":[
{"width":235,"height":145,"title":{"text":"E"},"data":{"name":"pE"},
 "mark":{"type":"line","clip":true,"strokeWidth":1.2},
 "encoding":{
  "x":{"field":"c","type":"quantitative","title":"Fluorescence","scale":{"domain":[0,256],"nice":false,"zero":false},"axis":{"values":[0,19.27,30.54,38.53,44.74,49.8,54.09,57.8,61.07,64,83.27,94.54,102.53,108.74,113.8,118.09,121.8,125.07,128,147.27,158.54,166.53,172.74,177.8,182.09,185.8,189.07,192,211.27,222.54,230.53,236.74,241.8,246.09,249.8,253.07,256],"labelExpr":"datum.value % 64 == 0 ? '10e' + (datum.value / 64) : ''","tickSize":{"condition":{"test":"datum.value % 64 == 0","value":7},"value":4}}},
  "y":{"field":"n","type":"quantitative","title":"Cell Count","scale":{"domain":[0,20],"nice":false},"axis":{"values":[0,1,2,3,4,5,6,7,8,9,10,11,12,13,14,15,16,17,18,19,20],"labelExpr":"datum.value % 5 == 0 ? '' + datum.value : ''","tickSize":{"condition":{"test":"datum.value % 5 == 0","value":7},"value":4}}},
  "color":{"field":"s","type":"nominal","scale":{"domain":[1,2,3],"range":["#b0b0b0","#6e6e6e","#111111"]},"legend":null}}},
{"width":237,"height":145,"title":{"text":"F"},"data":{"name":"pF"},
 "mark":{"type":"line","clip":true,"strokeWidth":1.2},
 "encoding":{
  "x":{"field":"c","type":"quantitative","title":"Fluorescence","scale":{"domain":[0,256],"nice":false,"zero":false},"axis":{"values":[0,19.27,30.54,38.53,44.74,49.8,54.09,57.8,61.07,64,83.27,94.54,102.53,108.74,113.8,118.09,121.8,125.07,128,147.27,158.54,166.53,172.74,177.8,182.09,185.8,189.07,192,211.27,222.54,230.53,236.74,241.8,246.09,249.8,253.07,256],"labelExpr":"datum.value % 64 == 0 ? '10e' + (datum.value / 64) : ''","tickSize":{"condition":{"test":"datum.value % 64 == 0","value":7},"value":4}}},
  "y":{"field":"n","type":"quantitative","title":"Cell Count","scale":{"domain":[0,20],"nice":false},"axis":{"values":[0,1,2,3,4,5,6,7,8,9,10,11,12,13,14,15,16,17,18,19,20],"labelExpr":"datum.value % 5 == 0 ? '' + datum.value : ''","tickSize":{"condition":{"test":"datum.value % 5 == 0","value":7},"value":4}}},
  "color":{"field":"s","type":"nominal","scale":{"domain":[1,2,3],"range":["#b0b0b0","#6e6e6e","#111111"]},"legend":null}}}
]}
],
"config":{
 "font":"Liberation Sans",
 "view":{"stroke":"#222222","strokeWidth":1},
 "concat":{"spacing":35},
 "axis":{"grid":false,"domainColor":"#222222","tickColor":"#222222","labelColor":"#333333","titleColor":"#333333","labelFont":"Liberation Sans","titleFont":"Liberation Sans","titleFontWeight":"normal","labelFontSize":11,"titleFontSize":17,"labelFlush":false,"labelOverlap":false,"tickWidth":1,"domainWidth":1},
 "axisX":{"labelPadding":5,"titlePadding":13},
 "axisY":{"labelAngle":270,"labelAlign":"center","labelBaseline":"alphabetic","labelPadding":9,"titlePadding":12,"titleFontSize":16},
 "title":{"fontSize":22,"fontWeight":"bold","anchor":"start","frame":"bounds","color":"#000000","baseline":"top","offset":-20,"dx":-5,"font":"Liberation Sans"}
}
}
